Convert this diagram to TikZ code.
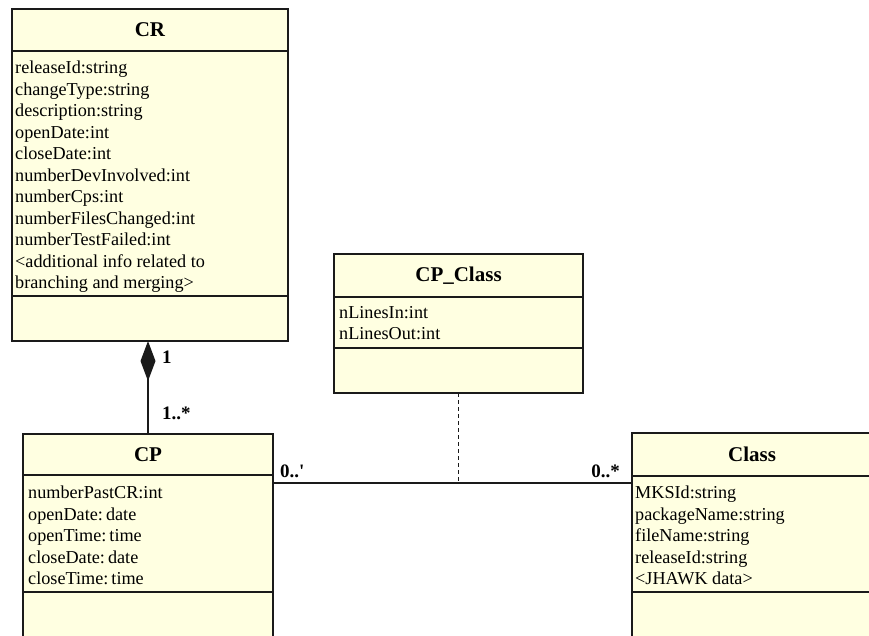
\documentclass[tikz,border=0pt]{standalone}
\usepackage{fontspec}
\setmainfont{Liberation Serif}
\usetikzlibrary{arrows.meta,positioning}
\definecolor{clsfill}{HTML}{FFFFE1}
\definecolor{clsline}{HTML}{1A1A1A}
\tikzset{
  cls/.style={draw=clsline, fill=clsfill, line width=1.6pt, outer sep=0pt,
              inner sep=0pt, minimum width=#1},
  cls/.default=250pt,
  ttl/.style={font=\fontsize{21}{25}\selectfont\bfseries},
  atr/.style={align=left, inner sep=0pt, font=\fontsize{18.2}{21.5}\selectfont},
  mult/.style={font=\fontsize{19}{22}\selectfont\bfseries, inner sep=0pt},
  lnk/.style={draw=clsline, line width=1.3pt},
}
\begin{document}
\begin{tikzpicture}[x=1pt, y=-1pt]
\useasboundingbox (0,0) rectangle (869,635);
% CR
\node[cls=276pt, ttl, minimum height=42pt, anchor=north west] (crT) at (12,9) {CR};
\node[cls=276pt, minimum height=245pt, below=0pt of crT] (crA) {};
\node[atr, anchor=north west] (crAtx) at ([xshift=3pt, yshift=-10pt]crA.north west)
  {releaseId:string\\changeType:string\\description:string\\openDate:int\\closeDate:int\\
   numberDevInvolved:int\\numberCps:int\\numberFilesChanged:int\\numberTestFailed:int\\
   <additional info related to\\branching and merging>};
\node[cls=276pt, minimum height=45pt, below=0pt of crA] (crO) {};
% CP_Class
\node[cls=249pt, ttl, minimum height=43pt, anchor=north west] (ccT) at (334,254) {CP\_Class};
\node[cls=249pt, minimum height=51pt, below=0pt of ccT] (ccA) {};
\node[atr, anchor=north west] (ccAtx) at ([xshift=5pt, yshift=-9pt]ccA.north west)
  {nLinesIn:int\\nLinesOut:int};
\node[cls=249pt, minimum height=45pt, below=0pt of ccA] (ccO) {};
% CP
\node[cls=250pt, ttl, minimum height=41pt, anchor=north west] (cpT) at (23,434) {CP};
\node[cls=250pt, minimum height=117pt, below=0pt of cpT] (cpA) {};
\node[atr, anchor=north west] (cpAtx) at ([xshift=5pt, yshift=-11pt]cpA.north west)
  {numberPastCR:int\\openDate:\,date\\openTime:\,time\\closeDate:\,date\\closeTime:\,time};
\node[cls=250pt, minimum height=60pt, below=0pt of cpA] (cpO) {};
% Class
\node[cls=240pt, ttl, minimum height=43pt, anchor=north west] (clT) at (632,433) {Class};
\node[cls=240pt, minimum height=116pt, below=0pt of clT] (clA) {};
\node[atr, anchor=north west] (clAtx) at ([xshift=3pt, yshift=-10pt]clA.north west)
  {MKSId:string\\packageName:string\\fileName:string\\releaseId:string\\<JHAWK data>};
\node[cls=240pt, minimum height=60pt, below=0pt of clA] (clO) {};
% links
\draw[lnk, {Diamond[length=40pt, width=15pt]}-] (crO.south -| cpT.north) -- (cpT.north);
\coordinate (ascL) at ([yshift=-8pt]cpA.north east);
\coordinate (ascR) at (ascL -| clA.west);
\draw[lnk] (ascL) -- (ascR);
\draw[lnk, line width=0.8pt, dash pattern=on 4pt off 3pt] (ccO.south) -- (ccO.south |- ascL);
% multiplicities
\node[mult, anchor=west] (mOne) at (162,357) {1};
\node[mult, anchor=west] (mMany) at (162,413) {1..*};
\node[mult, anchor=base west] (mCp) at (280,477) {0..\textquotesingle};
\node[mult, anchor=base east] (mCl) at (620,477) {0..*};
\end{tikzpicture}
\end{document}
